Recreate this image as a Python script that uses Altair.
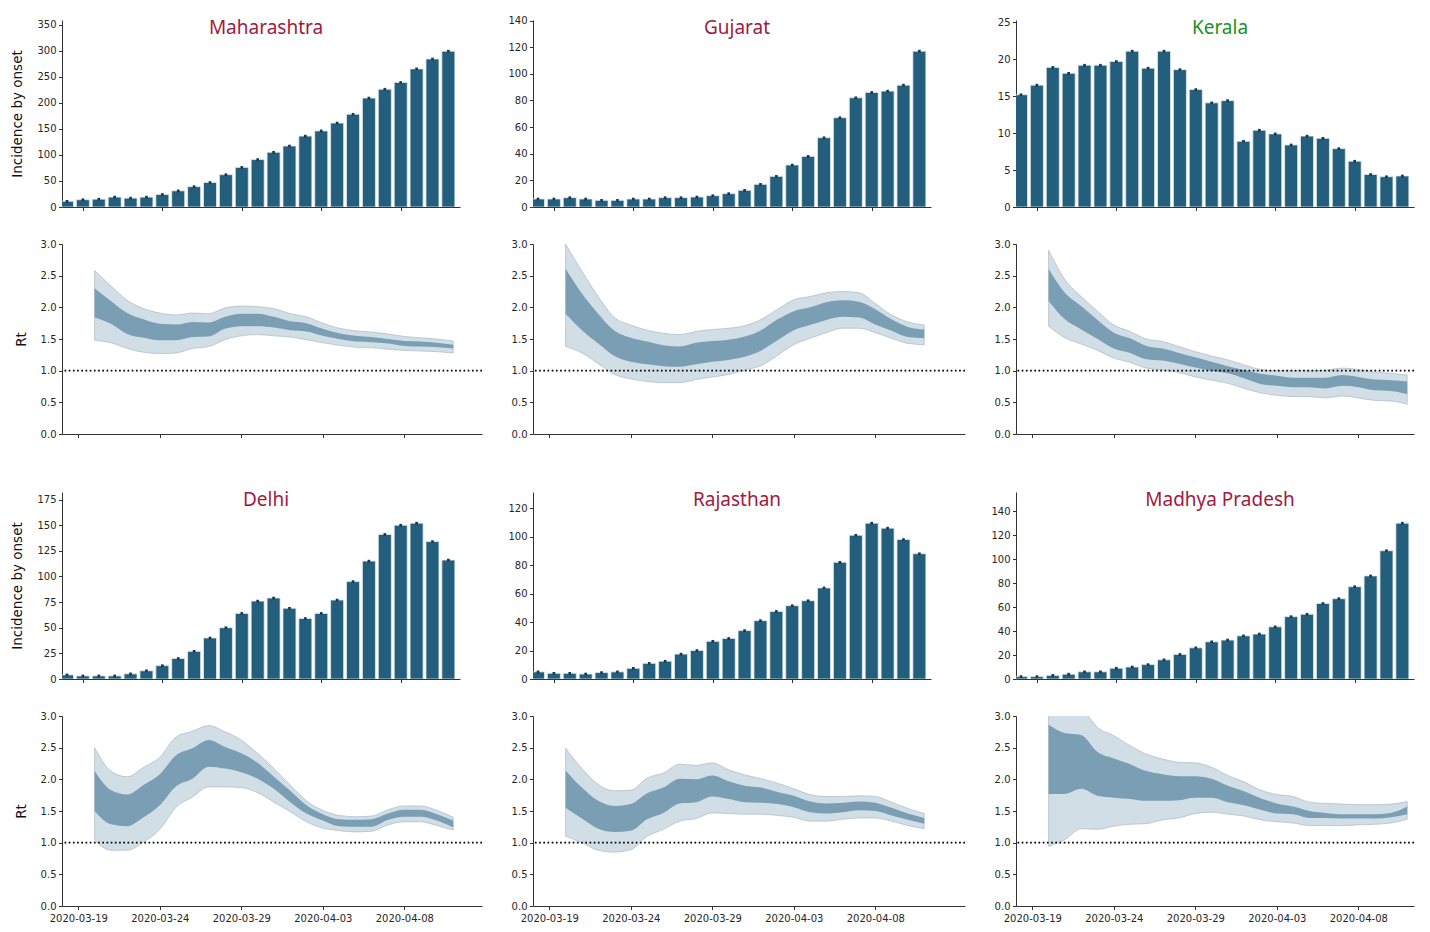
import altair as alt
import pandas as pd

# ---------------- data ----------------
DATES_INC = [d.strftime("%Y-%m-%d") for d in pd.date_range("2020-03-18", "2020-04-11")]
DATES_RT = [d.strftime("%Y-%m-%d") for d in pd.date_range("2020-03-20", "2020-04-11")]
TICK_DATES = ["2020-03-19", "2020-03-24", "2020-03-29", "2020-04-03", "2020-04-08"]

STATES = ["Maharashtra", "Gujarat", "Kerala", "Delhi", "Rajasthan", "Madhya Pradesh"]
TITLE_COLORS = ["#a3183f", "#a3183f", "#1c8f1c", "#a3183f", "#a3183f", "#a3183f"]

INC_MAH = [11, 14, 15, 19, 17, 19, 24, 31, 39, 47, 62, 76, 91, 105, 117, 136, 146, 161, 178, 209, 226, 239, 265, 284, 299]
INC_GUJ = [6, 6, 7, 6, 5, 5, 6, 6, 7, 7, 7.5, 8.5, 10, 12.5, 17, 23, 31.5, 38, 52, 67, 82, 86, 87, 91.5, 117]
INC_KER = [15.2, 16.5, 18.9, 18.1, 19.2, 19.2, 19.7, 21.1, 18.8, 21.1, 18.6, 15.9, 14.1, 14.4, 8.9, 10.4, 9.9, 8.4, 9.6, 9.3, 7.9, 6.2, 4.4, 4.1, 4.2]
INC_DEL = [4, 3, 3, 3, 5, 8, 13, 20, 27, 40, 50, 64, 76, 79, 69, 59, 64, 77, 95, 115, 141, 150, 152, 134, 116]
INC_RAJ = [5, 4, 4, 3.5, 4.5, 5, 7.5, 11, 12.5, 17.5, 20, 26.5, 28.5, 34, 41, 47.5, 51.5, 55, 64, 82, 101, 109.5, 106, 98, 88]
INC_MP = [2, 2, 3, 4, 6, 6, 9, 10, 12, 16, 20.5, 26, 31, 32.5, 36, 37.5, 43.5, 52, 54, 63, 67, 77, 86, 107, 130]

YTICKS_MAH = [0, 50, 100, 150, 200, 250, 300, 350]
YTICKS_GUJ = [0, 20, 40, 60, 80, 100, 120, 140]
YTICKS_KER = [0, 5, 10, 15, 20, 25]
YTICKS_DEL = [0, 25, 50, 75, 100, 125, 150, 175]
YTICKS_RAJ = [0, 20, 40, 60, 80, 100, 120]
YTICKS_MP = [0, 20, 40, 60, 80, 100, 120, 140]
RT_TICKS = [0.0, 0.5, 1.0, 1.5, 2.0, 2.5, 3.0]

# Rt credible bands: outer low, inner low, inner high, outer high
MAH_LO95 = [1.48, 1.44, 1.35, 1.29, 1.27, 1.28, 1.35, 1.38, 1.49, 1.55, 1.57, 1.55, 1.53, 1.49, 1.44, 1.40, 1.37, 1.36, 1.34, 1.32, 1.31, 1.30, 1.28]
MAH_LO50 = [1.84, 1.74, 1.58, 1.52, 1.48, 1.48, 1.53, 1.54, 1.66, 1.70, 1.70, 1.68, 1.64, 1.62, 1.55, 1.50, 1.46, 1.45, 1.43, 1.39, 1.38, 1.37, 1.35]
MAH_HI50 = [2.30, 2.10, 1.91, 1.81, 1.74, 1.73, 1.77, 1.76, 1.85, 1.90, 1.90, 1.85, 1.78, 1.75, 1.66, 1.59, 1.55, 1.53, 1.50, 1.47, 1.46, 1.44, 1.41]
MAH_HI95 = [2.58, 2.34, 2.11, 1.98, 1.91, 1.88, 1.91, 1.90, 1.99, 2.02, 2.01, 1.98, 1.90, 1.85, 1.75, 1.67, 1.63, 1.61, 1.58, 1.54, 1.52, 1.50, 1.47]

GUJ_LO95 = [1.38, 1.28, 1.11, 0.94, 0.87, 0.83, 0.81, 0.81, 0.86, 0.90, 0.94, 1.01, 1.08, 1.24, 1.41, 1.51, 1.60, 1.67, 1.67, 1.60, 1.51, 1.43, 1.41]
GUJ_LO50 = [1.90, 1.64, 1.43, 1.23, 1.14, 1.10, 1.07, 1.06, 1.10, 1.14, 1.17, 1.22, 1.32, 1.48, 1.64, 1.72, 1.80, 1.85, 1.84, 1.73, 1.63, 1.53, 1.51]
GUJ_HI50 = [2.61, 2.22, 1.90, 1.63, 1.52, 1.46, 1.40, 1.38, 1.44, 1.47, 1.49, 1.54, 1.64, 1.81, 1.94, 2.00, 2.08, 2.11, 2.09, 1.97, 1.81, 1.69, 1.65]
GUJ_HI95 = [3.00, 2.57, 2.17, 1.84, 1.72, 1.64, 1.59, 1.57, 1.62, 1.65, 1.67, 1.71, 1.81, 1.97, 2.12, 2.17, 2.23, 2.25, 2.23, 2.06, 1.88, 1.77, 1.72]

KER_LO95 = [1.70, 1.52, 1.42, 1.32, 1.20, 1.13, 1.04, 1.01, 0.97, 0.90, 0.85, 0.80, 0.72, 0.65, 0.61, 0.59, 0.59, 0.57, 0.60, 0.57, 0.53, 0.52, 0.47]
KER_LO50 = [2.10, 1.81, 1.65, 1.50, 1.35, 1.28, 1.18, 1.16, 1.11, 1.05, 1.00, 0.96, 0.88, 0.79, 0.76, 0.74, 0.74, 0.72, 0.76, 0.74, 0.69, 0.68, 0.63]
KER_HI50 = [2.61, 2.23, 2.02, 1.80, 1.60, 1.51, 1.39, 1.35, 1.28, 1.21, 1.14, 1.07, 1.01, 0.95, 0.92, 0.89, 0.89, 0.89, 0.93, 0.90, 0.86, 0.85, 0.83]
KER_HI95 = [2.90, 2.44, 2.17, 1.94, 1.72, 1.62, 1.50, 1.46, 1.38, 1.30, 1.23, 1.17, 1.09, 1.02, 1.00, 1.00, 1.00, 1.01, 1.04, 1.02, 0.98, 0.96, 0.93]

DEL_LO95 = [1.04, 0.88, 0.88, 1.01, 1.21, 1.56, 1.72, 1.88, 1.88, 1.87, 1.79, 1.64, 1.49, 1.33, 1.23, 1.19, 1.17, 1.18, 1.28, 1.33, 1.33, 1.27, 1.20]
DEL_LO50 = [1.50, 1.29, 1.26, 1.40, 1.59, 1.89, 2.01, 2.20, 2.17, 2.11, 2.01, 1.85, 1.64, 1.46, 1.35, 1.26, 1.25, 1.25, 1.36, 1.41, 1.41, 1.35, 1.24]
DEL_HI50 = [2.13, 1.83, 1.76, 1.91, 2.08, 2.38, 2.49, 2.62, 2.51, 2.41, 2.26, 2.04, 1.82, 1.59, 1.45, 1.37, 1.36, 1.37, 1.46, 1.52, 1.52, 1.45, 1.35]
DEL_HI95 = [2.50, 2.13, 2.04, 2.19, 2.35, 2.67, 2.76, 2.85, 2.75, 2.62, 2.41, 2.17, 1.91, 1.66, 1.51, 1.43, 1.41, 1.42, 1.52, 1.58, 1.58, 1.51, 1.40]

RAJ_LO95 = [1.10, 1.00, 0.88, 0.85, 0.89, 1.10, 1.21, 1.34, 1.38, 1.47, 1.46, 1.45, 1.45, 1.43, 1.40, 1.34, 1.34, 1.37, 1.39, 1.39, 1.34, 1.27, 1.22]
RAJ_LO50 = [1.55, 1.38, 1.22, 1.17, 1.19, 1.37, 1.47, 1.62, 1.64, 1.73, 1.69, 1.64, 1.63, 1.61, 1.56, 1.48, 1.46, 1.48, 1.51, 1.50, 1.43, 1.36, 1.30]
RAJ_HI50 = [2.14, 1.87, 1.66, 1.58, 1.61, 1.78, 1.87, 2.01, 2.00, 2.06, 1.97, 1.90, 1.87, 1.80, 1.74, 1.65, 1.62, 1.63, 1.65, 1.63, 1.55, 1.46, 1.39]
RAJ_HI95 = [2.49, 2.17, 1.92, 1.82, 1.83, 2.02, 2.10, 2.24, 2.22, 2.26, 2.15, 2.07, 2.01, 1.94, 1.85, 1.76, 1.73, 1.73, 1.74, 1.73, 1.64, 1.54, 1.46]

MP_LO95 = [0.94, 1.05, 1.22, 1.21, 1.26, 1.29, 1.30, 1.36, 1.39, 1.46, 1.48, 1.45, 1.42, 1.36, 1.33, 1.31, 1.27, 1.27, 1.27, 1.28, 1.29, 1.31, 1.37]
MP_LO50 = [1.77, 1.77, 1.85, 1.74, 1.71, 1.69, 1.66, 1.66, 1.67, 1.71, 1.71, 1.64, 1.59, 1.52, 1.46, 1.45, 1.39, 1.39, 1.38, 1.38, 1.38, 1.40, 1.45]
MP_HI50 = [2.86, 2.73, 2.70, 2.43, 2.33, 2.24, 2.13, 2.08, 2.05, 2.05, 2.01, 1.90, 1.81, 1.70, 1.62, 1.57, 1.50, 1.47, 1.45, 1.45, 1.45, 1.47, 1.57]
MP_HI95 = [3.40, 3.35, 3.15, 2.82, 2.69, 2.53, 2.40, 2.32, 2.27, 2.26, 2.19, 2.06, 1.96, 1.83, 1.76, 1.73, 1.64, 1.62, 1.61, 1.60, 1.60, 1.61, 1.65]

INC = [INC_MAH, INC_GUJ, INC_KER, INC_DEL, INC_RAJ, INC_MP]
YTICKS = [YTICKS_MAH, YTICKS_GUJ, YTICKS_KER, YTICKS_DEL, YTICKS_RAJ, YTICKS_MP]
RT = [
    (MAH_LO95, MAH_LO50, MAH_HI50, MAH_HI95),
    (GUJ_LO95, GUJ_LO50, GUJ_HI50, GUJ_HI95),
    (KER_LO95, KER_LO50, KER_HI50, KER_HI95),
    (DEL_LO95, DEL_LO50, DEL_HI50, DEL_HI95),
    (RAJ_LO95, RAJ_LO50, RAJ_HI50, RAJ_HI95),
    (MP_LO95, MP_LO50, MP_HI50, MP_HI95),
]

# ---------------- style / layout ----------------
BAR_COLOR = "#235e7c"
BAR_EDGE = "#dfe8ee"
INNER = "#7a9eb3"
OUTER = "#d2dee6"
OUTER_EDGE = "#9fb2bf"
AX = "#333333"

PX_PER_DAY = 16.3
BAR_W = 398
BAR_H = 187
RT_H = 190
RT_W = [420, 432, 398]
ROW_GAP = 37
EXTRA_TOP_ROW2 = 21   # extra blank above the second row of bar panels
DAY_MS = 86400000


def ms(s):
    return int(pd.Timestamp(s, tz="UTC").value // 10**6)


X0 = ms("2020-03-18")
TICK_MS = [ms(d) for d in TICK_DATES]


def x_enc(width, labels):
    return alt.X(
        "date:T",
        scale=alt.Scale(type="utc", domain=[X0, X0 + width / PX_PER_DAY * DAY_MS]),
        axis=alt.Axis(values=TICK_MS, labelExpr="utcFormat(datum.value, '%Y-%m-%d')",
                      labels=labels, title=None, grid=False, labelFlush=False,
                      labelPadding=4),
    )


def bar_panel(i, first_col, top_blank):
    vals = INC[i]
    df = pd.DataFrame({"date": DATES_INC, "inc": vals})
    ymax = max(vals) * 1.2
    h = BAR_H + top_blank
    yax = alt.Axis(values=YTICKS[i], title="Incidence by onset" if first_col else None,
                   grid=False, titlePadding=12)
    y = alt.Y("inc:Q", scale=alt.Scale(domain=[0, ymax], nice=False, range=[h, top_blank]),
              axis=yax)
    x = x_enc(BAR_W, False)
    bars = alt.Chart(df).mark_bar(size=13, color=BAR_COLOR, stroke=BAR_EDGE,
                                  strokeWidth=0.8, clip=True).encode(x=x, y=y)
    caps = alt.Chart(df).mark_point(shape="square", filled=True, size=7, opacity=1,
                                    color="#16384a", clip=True).encode(x=x, y=y)
    tdf = pd.DataFrame({"name": [STATES[i]]})
    title = alt.Chart(tdf).mark_text(font="Noto Sans", fontSize=19, color=TITLE_COLORS[i],
                                     baseline="middle", align="center").encode(
        text="name:N", x=alt.value(BAR_W / 2 + 5), y=alt.value(top_blank + 7.5))
    return alt.layer(bars, caps, title).properties(width=BAR_W, height=h)


def rt_panel(i, width, first_col, xlabels):
    lo95, lo50, hi50, hi95 = RT[i]
    df = pd.DataFrame({"date": DATES_RT, "lo95": lo95, "lo50": lo50, "hi50": hi50, "hi95": hi95})
    yscale = alt.Scale(domain=[0, 3], nice=False)
    yax = alt.Axis(values=RT_TICKS, format=".1f", title="Rt" if first_col else None,
                   grid=False, titlePadding=12)
    x = x_enc(width, xlabels)
    outer = alt.Chart(df).mark_area(color=OUTER, interpolate="monotone", clip=True,
                                    stroke=OUTER_EDGE, strokeWidth=0.6, opacity=1).encode(
        x=x, y=alt.Y("lo95:Q", scale=yscale, axis=yax), y2="hi95:Q")
    inner = alt.Chart(df).mark_area(color=INNER, interpolate="monotone", clip=True,
                                    opacity=1).encode(
        x=x, y=alt.Y("lo50:Q", scale=yscale, axis=yax), y2="hi50:Q")
    rule = alt.Chart(pd.DataFrame({"one": [1.0]})).mark_rule(
        color="black", strokeDash=[1.7, 2.5], strokeWidth=1.8).encode(
        y=alt.Y("one:Q", scale=yscale, axis=yax))
    return alt.layer(outer, inner, rule).properties(width=width, height=RT_H)


panels = []
panels += [bar_panel(c, c == 0, 0) for c in range(3)]
panels += [rt_panel(c, RT_W[c], c == 0, False) for c in range(3)]
panels += [bar_panel(c + 3, c == 0, EXTRA_TOP_ROW2) for c in range(3)]
panels += [rt_panel(c + 3, RT_W[c], c == 0, True) for c in range(3)]

chart = alt.concat(
    *panels, columns=3, spacing={"row": ROW_GAP, "column": 51}, bounds="flush", align="each"
).properties(
    padding={"left": 2, "top": 7, "right": 0, "bottom": 0}
).configure_view(stroke=None).configure_axis(
    domainColor=AX, tickColor=AX, labelColor="#262626", labelFont="DejaVu Sans",
    labelFontSize=10, tickSize=3.5, domainWidth=1, tickWidth=1, labelPadding=2.5,
    titleFont="DejaVu Sans", titleFontSize=13.5, titleFontWeight="normal", titleColor="#111111",
)

chart.save("out.html", embed_options={"renderer": "svg", "actions": False})
